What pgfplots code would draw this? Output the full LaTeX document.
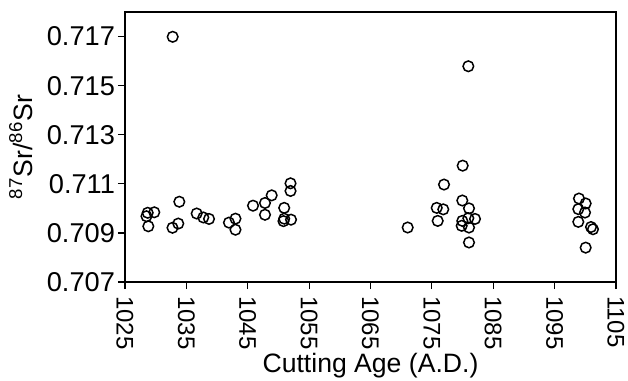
\documentclass[border=0pt]{standalone}
\usepackage{fontspec}
\setmainfont{Liberation Sans}
\usepackage{pgfplots}
\pgfplotsset{compat=1.18}
\begin{document}
\begin{tikzpicture}
\useasboundingbox (-62.5pt,-49.5pt) rectangle (251.5pt,141pt);
\begin{axis}[
  at={(0,0)}, anchor=south west,
  scale only axis, width=245.5pt, height=135pt,
  xmin=1025, xmax=1105, ymin=0.707, ymax=0.718,
  xtick={1025,1035,1045,1055,1065,1075,1085,1095,1105},
  xticklabels={1025,1035,1045,1055,1065,1075,1085,1095,1105},
  ytick={0.707,0.709,0.711,0.713,0.715,0.717},
  yticklabels={0.707,0.709,0.711,0.713,0.715,0.717},
  tick align=outside, tick pos=left,
  major tick length=3.5pt,
  axis line style={line width=0.9pt},
  every tick/.style={black, line width=0.6pt},
  xticklabel style={font=\fontsize{12}{14}\selectfont, rotate=-90, anchor=west, xshift=0pt},
  yticklabel style={font=\fontsize{13.6}{16}\selectfont, anchor=east, xshift=2pt},
  xlabel={Cutting Age (A.D.)},
  ylabel={\textsuperscript{87}Sr/\textsuperscript{86}Sr},
  label style={font=\fontsize{13.3}{15}\selectfont},
  xlabel style={at={(axis description cs:0.5,-0.337)}, anchor=base},
  ylabel style={at={(axis description cs:-0.212,0.5)}, anchor=center},
  clip=false,
]
\addplot[only marks, mark=o, mark size=2.65pt, mark options={line width=0.75pt, black, fill=white}] coordinates {
(1032.77,0.71699)
(1028.70,0.70982)
(1028.50,0.70968)
(1029.77,0.70984)
(1028.80,0.70927)
(1033.85,0.71027)
(1032.74,0.70921)
(1033.68,0.70938)
(1036.68,0.70979)
(1037.76,0.70963)
(1038.69,0.70957)
(1041.94,0.70942)
(1043.00,0.70958)
(1043.00,0.70913)
(1045.86,0.71011)
(1047.81,0.71022)
(1048.90,0.71053)
(1047.81,0.70974)
(1051.97,0.71102)
(1051.97,0.71071)
(1050.94,0.71002)
(1050.94,0.70958)
(1050.82,0.70948)
(1052.05,0.70954)
(1080.94,0.71579)
(1071.06,0.70922)
(1080.02,0.71174)
(1076.98,0.71097)
(1075.79,0.71002)
(1076.86,0.70996)
(1075.95,0.70949)
(1079.96,0.71032)
(1081.05,0.71000)
(1082.03,0.70957)
(1080.94,0.70960)
(1079.96,0.70949)
(1079.86,0.70929)
(1081.05,0.70922)
(1081.05,0.70861)
(1098.97,0.71040)
(1100.06,0.71020)
(1098.86,0.70997)
(1099.95,0.70983)
(1098.86,0.70945)
(1100.93,0.70924)
(1101.25,0.70915)
(1100.06,0.70840)
};
\end{axis}
\end{tikzpicture}
\end{document}
